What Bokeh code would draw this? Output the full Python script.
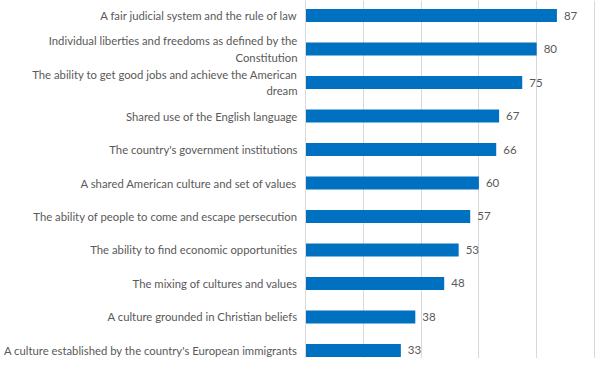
from bokeh.plotting import figure
from bokeh.models import Range1d, FixedTicker, Grid, ColumnDataSource
from bokeh.core.properties import value
from bokeh.embed import file_html
from bokeh.resources import INLINE

categories = [
    "A fair judicial system and the rule of law",
    "Individual liberties and freedoms as defined by the\nConstitution",
    "The ability to get good jobs and achieve the American\ndream",
    "Shared use of the English language",
    "The country's government institutions",
    "A shared American culture and set of values",
    "The ability of people to come and escape persecution",
    "The ability to find economic opportunities",
    "The mixing of cultures and values",
    "A culture grounded in Christian beliefs",
    "A culture established by the country's European immigrants",
]
values = [87, 80, 75, 67, 66, 60, 57, 53, 48, 38, 33]
grid_ticks = [0, 20, 40, 60, 80, 100]

positions = list(range(len(categories)))
labels = [str(v) for v in values]

FONT = "Lato"
GREY = "#595959"

src = ColumnDataSource(dict(y=positions, v=values, lab=labels))

p = figure(width=596, height=358, output_backend="svg", toolbar_location=None,
           x_range=Range1d(0, 100.7), y_range=Range1d(10.239, -0.448),
           x_axis_location=None, min_border_left=303, min_border_right=0,
           min_border_top=0, min_border_bottom=0)
p.outline_line_color = None
p.background_fill_color = "white"
p.border_fill_color = "white"

for g in list(p.xgrid) + list(p.ygrid):
    g.visible = False
p.add_layout(Grid(dimension=0, ticker=FixedTicker(ticks=grid_ticks),
                  grid_line_color="#D9D9D9", grid_line_width=1))

p.hbar(y="y", right="v", left=0, height=0.39, source=src,
       fill_color="#0070C0", line_color=None)

p.text(x="v", y="y", text="lab", source=src, x_offset=7,
       text_baseline="middle", text_align="left",
       text_font=value(FONT), text_font_size="11.5px", text_color=GREY)

ax = p.yaxis[0]
ax.ticker = FixedTicker(ticks=positions)
ax.major_label_overrides = {i: c for i, c in zip(positions, categories)}
ax.major_label_text_font = FONT
ax.major_label_text_font_size = "11.3px"
ax.major_label_text_color = GREY
ax.major_label_text_line_height = 1.25
ax.major_label_standoff = 8
ax.major_tick_in = 0
ax.major_tick_out = 0
ax.major_tick_line_color = None
ax.minor_tick_line_color = None
ax.axis_line_color = "#D9D9D9"

open("out.html", "w").write(file_html(p, INLINE))
